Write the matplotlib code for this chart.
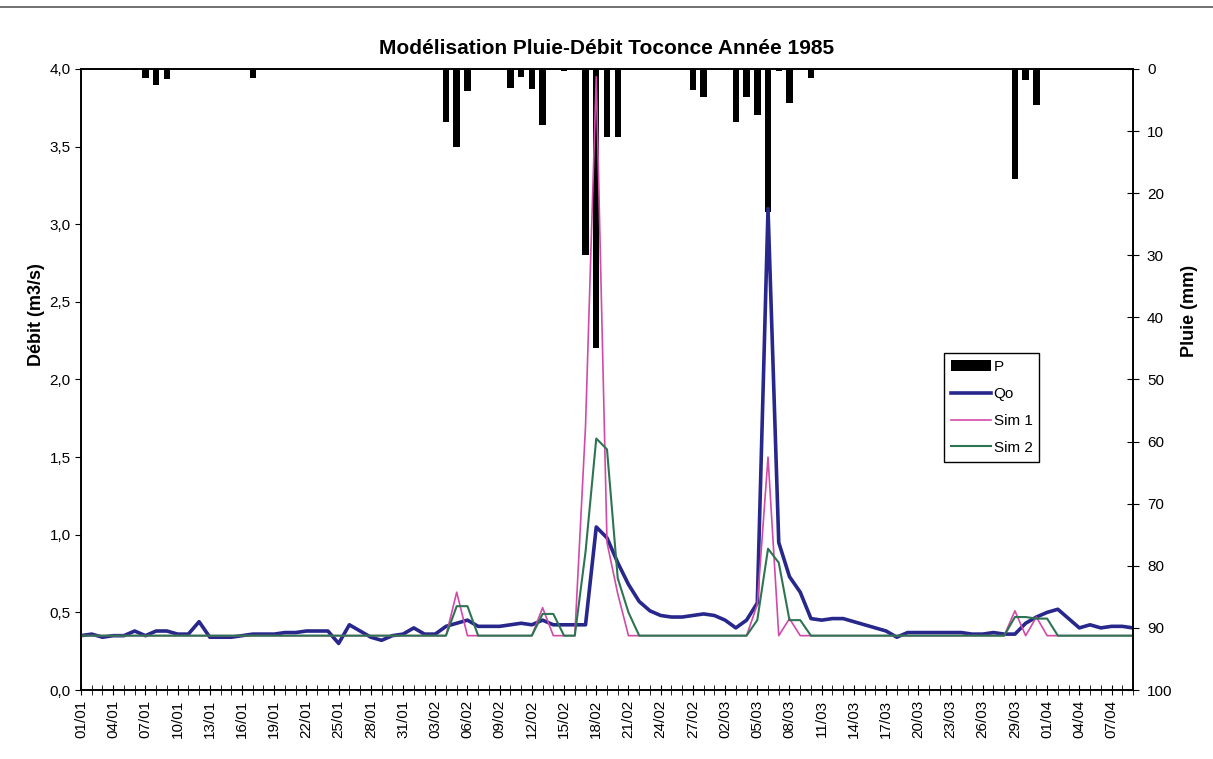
import numpy as np
import pandas as pd
import matplotlib
matplotlib.use("Agg")
import matplotlib.pyplot as plt
from matplotlib.ticker import FuncFormatter, MultipleLocator
from matplotlib.lines import Line2D

plt.rcParams['font.family'] = ['Liberation Sans', 'DejaVu Sans']

# débit observé (m3/s), 01/01 -> 09/04/1985
qo = [0.35, 0.36, 0.34, 0.35, 0.35, 0.38, 0.35, 0.38, 0.38, 0.36,
      0.36, 0.44, 0.34, 0.34, 0.34, 0.35, 0.36, 0.36, 0.36, 0.37,
      0.37, 0.38, 0.38, 0.38, 0.30, 0.42, 0.38, 0.34, 0.32, 0.35,
      0.36, 0.40, 0.36, 0.36, 0.41, 0.43, 0.45, 0.41, 0.41, 0.41,
      0.42, 0.43, 0.42, 0.45, 0.42, 0.42, 0.42, 0.42, 1.05, 0.98,
      0.82, 0.68, 0.57, 0.51, 0.48, 0.47, 0.47, 0.48, 0.49, 0.48,
      0.45, 0.40, 0.45, 0.56, 3.10, 0.95, 0.73, 0.63, 0.46, 0.45,
      0.46, 0.46, 0.44, 0.42, 0.40, 0.38, 0.34, 0.37, 0.37, 0.37,
      0.37, 0.37, 0.37, 0.36, 0.36, 0.37, 0.36, 0.36, 0.43, 0.47,
      0.50, 0.52, 0.46, 0.40, 0.42, 0.40, 0.41, 0.41, 0.40]

sim1 = [0.35, 0.35, 0.35, 0.35, 0.35, 0.35, 0.35, 0.35, 0.35, 0.35,
        0.35, 0.35, 0.35, 0.35, 0.35, 0.35, 0.35, 0.35, 0.35, 0.35,
        0.35, 0.35, 0.35, 0.35, 0.35, 0.35, 0.35, 0.35, 0.35, 0.35,
        0.35, 0.35, 0.35, 0.35, 0.35, 0.63, 0.35, 0.35, 0.35, 0.35,
        0.35, 0.35, 0.35, 0.53, 0.35, 0.35, 0.35, 1.70, 3.95, 0.95,
        0.62, 0.35, 0.35, 0.35, 0.35, 0.35, 0.35, 0.35, 0.35, 0.35,
        0.35, 0.35, 0.35, 0.55, 1.50, 0.35, 0.46, 0.35, 0.35, 0.35,
        0.35, 0.35, 0.35, 0.35, 0.35, 0.35, 0.35, 0.35, 0.35, 0.35,
        0.35, 0.35, 0.35, 0.35, 0.35, 0.35, 0.35, 0.51, 0.35, 0.47,
        0.35, 0.35, 0.35, 0.35, 0.35, 0.35, 0.35, 0.35, 0.35]

sim2 = [0.35, 0.35, 0.35, 0.35, 0.35, 0.35, 0.35, 0.35, 0.35, 0.35,
        0.35, 0.35, 0.35, 0.35, 0.35, 0.35, 0.35, 0.35, 0.35, 0.35,
        0.35, 0.35, 0.35, 0.35, 0.35, 0.35, 0.35, 0.35, 0.35, 0.35,
        0.35, 0.35, 0.35, 0.35, 0.35, 0.54, 0.54, 0.35, 0.35, 0.35,
        0.35, 0.35, 0.35, 0.49, 0.49, 0.35, 0.35, 0.89, 1.62, 1.55,
        0.72, 0.50, 0.35, 0.35, 0.35, 0.35, 0.35, 0.35, 0.35, 0.35,
        0.35, 0.35, 0.35, 0.45, 0.91, 0.82, 0.45, 0.45, 0.35, 0.35,
        0.35, 0.35, 0.35, 0.35, 0.35, 0.35, 0.35, 0.35, 0.35, 0.35,
        0.35, 0.35, 0.35, 0.35, 0.35, 0.35, 0.35, 0.47, 0.47, 0.46,
        0.46, 0.35, 0.35, 0.35, 0.35, 0.35, 0.35, 0.35, 0.35]

# pluie journalière (mm)
pluie = [0, 0, 0, 0, 0.2, 0.2, 1.5, 2.6, 1.6, 0,
         0, 0, 0, 0, 0, 0, 1.5, 0, 0, 0,
         0, 0, 0, 0, 0, 0, 0, 0, 0, 0,
         0, 0, 0, 0, 8.5, 12.5, 3.5, 0, 0, 0,
         3.0, 1.3, 3.2, 9.0, 0, 0.3, 0, 30, 45, 11,
         11, 0, 0, 0, 0, 0, 0, 3.4, 4.5, 0,
         0, 8.5, 4.5, 7.4, 23, 0.4, 5.5, 0, 1.4, 0,
         0, 0, 0, 0, 0, 0, 0, 0, 0, 0,
         0, 0, 0, 0, 0, 0, 0, 17.7, 1.8, 5.8,
         0, 0, 0, 0, 0, 0, 0, 0.2, 0]

dates = pd.date_range("1985-01-01", periods=len(qo), freq="D")
labels = [d.strftime("%d/%m") for d in dates]
x = np.arange(len(qo))

W, H = 1213, 759
fig = plt.figure(figsize=(W / 100, H / 100), dpi=100)
ax = fig.add_axes([81 / W, 1 - 690 / H, (1133 - 81) / W, (690 - 69) / H])
ax2 = ax.twinx()

bars = ax2.bar(x, pluie, width=0.6, color="black", label="P")
ax2.set_ylim(100, 0)
ax2.set_yticks(range(0, 101, 10))
ax2.tick_params(axis="y", direction="inout", length=8, labelsize=11, pad=6)
ax2.set_ylabel("Pluie (mm)", fontweight="bold", fontsize=13)
ax2.yaxis.set_label_coords(1.046, 0.61)

ax.set_zorder(ax2.get_zorder() + 1)
ax.patch.set_visible(False)
l_qo, = ax.plot(x, qo, color="#27278c", lw=2.6, label="Qo")
l_s1, = ax.plot(x, sim1, color="#d24aa8", lw=1.2, label="Sim 1")
l_s2, = ax.plot(x, sim2, color="#2d7552", lw=1.5, label="Sim 2")

ax.set_xlim(0, len(x) - 1)
ax.set_ylim(0, 4)
ax.yaxis.set_major_locator(MultipleLocator(0.5))
ax.yaxis.set_major_formatter(FuncFormatter(lambda v, p: f"{v:.1f}".replace(".", ",")))
ax.set_xticks(x[::3])
ax.set_xticklabels(labels[::3], rotation=90)
ax.set_xticks(x, minor=True)
ax.tick_params(axis="x", which="both", direction="inout", length=7, labelsize=11)
ax.tick_params(axis="y", direction="out", length=4, labelsize=11)
ax.set_ylabel("Débit (m3/s)", fontweight="bold", fontsize=13)
ax.yaxis.set_label_coords(-0.034, 0.605)

for a in (ax, ax2):
    for s in a.spines.values():
        s.set_linewidth(1.2)

fig.text((81 + 1133) / 2 / W, 1 - 48 / H, "Modélisation Pluie-Débit Toconce Année 1985",
         ha="center", va="center", fontsize=15, fontweight="bold")

leg = fig.legend([bars, l_qo, l_s1, l_s2], ["P", "Qo", "Sim 1", "Sim 2"],
                 loc="upper left", bbox_to_anchor=(944 / W, 1 - 353 / H),
                 fancybox=False, edgecolor="black", framealpha=1, fontsize=11,
                 handlelength=2.6, handletextpad=0.2, labelspacing=0.85,
                 borderpad=0.45, borderaxespad=0)
leg.get_frame().set_linewidth(1)

fig.add_artist(Line2D([0, 1], [1 - 7 / H, 1 - 7 / H], transform=fig.transFigure,
                      color="0.35", lw=1.2))

fig.savefig("out.png", dpi=100)
